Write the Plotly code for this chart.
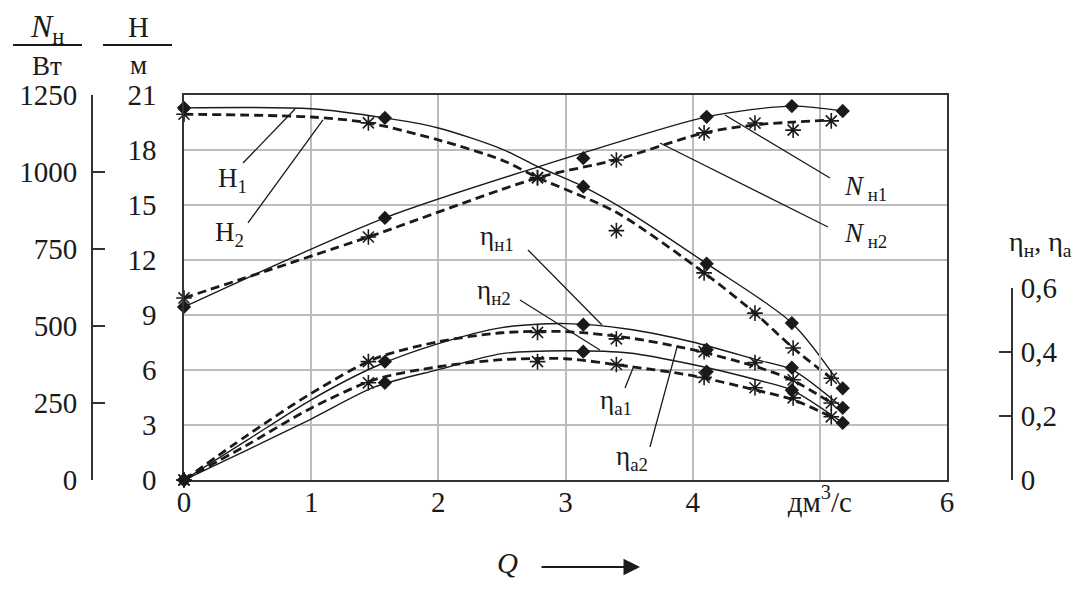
import plotly.graph_objects as go

# ---------------- data ----------------
# pump 1: measured points (diamonds, solid curves)
Q1 = [0, 1.58, 3.14, 4.11, 4.78, 5.18]
H1 = [20.3, 19.75, 16.0, 11.8, 8.56, 5.0]
N1 = [562, 851, 1045, 1179, 1214, 1198]
ETA_N1 = [0, 0.369, 0.484, 0.406, 0.35, 0.225]
ETA_N2 = [0, 0.303, 0.40, 0.3375, 0.28, 0.178]

# pump 2: measured points (asterisks, dashed curves)
Q2 = [0, 1.45, 2.78, 3.4, 4.09, 4.49, 4.79, 5.09]
H2 = [19.95, 19.48, 16.5, 13.6, 11.3, 9.1, 7.2, 5.55]
N2 = [591, 789, 981, 1039, 1127, 1159, 1136, 1166]
ETA_A2 = [0, 0.369, 0.46, 0.44, 0.40, 0.366, 0.3125, 0.24]
ETA_A1 = [0, 0.303, 0.369, 0.36, 0.32, 0.2875, 0.256, 0.197]

# smoothed (fitted) curves
QH1_FIT = [0, 1, 1.58, 2, 2.5, 2.78, 3.14, 3.5, 4.11, 4.78, 5.18]
H1_FIT = [20.3, 20.25, 19.75, 19.2, 18.05, 17.1, 16.0, 14.6, 11.8, 8.56, 5.0]
QH2_FIT = [0, 1, 1.45, 2, 2.5, 2.78, 3.4, 4.09, 4.49, 4.79, 5.09]
H2_FIT = [19.95, 19.8, 19.48, 18.55, 17.45, 16.5, 14.6, 11.3, 9.1, 7.2, 5.55]
QN1_FIT = [0, 1.58, 2.78, 3.14, 4.11, 4.78, 5.18]
N1_FIT = [562, 851, 1016, 1062, 1179, 1214, 1198]
QN2_FIT = [0, 1.45, 2.78, 3.4, 4.09, 4.49, 4.79, 5.09]
N2_FIT = [591, 789, 981, 1040, 1127, 1153, 1162, 1169]
QE1_FIT = [0, 0.5, 1, 1.5, 2, 2.5, 3, 3.5, 4, 4.5, 4.78, 5.18]
ETA_N1_FIT = [0, 0.125, 0.25, 0.353, 0.425, 0.475, 0.4875, 0.47, 0.43, 0.375, 0.344, 0.225]
ETA_N2_FIT = [0, 0.094, 0.19, 0.29, 0.344, 0.394, 0.403, 0.396, 0.36, 0.3125, 0.28, 0.178]
QE2_FIT = [0, 0.5, 1, 1.5, 2, 2.5, 3, 3.5, 4, 4.5, 4.79, 5.09]
ETA_A2_FIT = [0, 0.14, 0.27, 0.378, 0.431, 0.459, 0.4625, 0.443, 0.406, 0.353, 0.31, 0.24]
ETA_A1_FIT = [0, 0.11, 0.224, 0.313, 0.353, 0.375, 0.378, 0.354, 0.325, 0.28, 0.25, 0.197]

# axis ticks
Q_TICKS = [0, 1, 2, 3, 4, 5, 6]
Q_TICKTEXT = ["0", "1", "2", "3", "4", "дм<sup>3</sup>/с", "6"]
H_TICKS = [0, 3, 6, 9, 12, 15, 18, 21]
N_TICKS = [0, 250, 500, 750, 1000, 1250]
ETA_TICKS = [0, 0.2, 0.4, 0.6]
ETA_TICKTEXT = ["0", "0,2", "0,4", "0,6"]

# curve labels: (text, text_x, text_y, leader from x,y -> to x,y) in Q / H units
LABELS = [
    ("H<sub>1</sub>", 0.38, 16.36, 0.464, 17.29, 0.873, 20.24),
    ("H<sub>2</sub>", 0.36, 13.42, 0.503, 14.02, 1.093, 19.64),
    ("<i>N</i><sub> н1</sub>", 5.36, 15.93, 5.08, 16.47, 4.254, 19.91),
    ("<i>N</i><sub> н2</sub>", 5.36, 13.36, 5.064, 13.80, 3.743, 18.38),
    ("η<sub>н1</sub>", 2.46, 13.2, 2.705, 12.55, 3.287, 8.45),
    ("η<sub>н2</sub>", 2.44, 10.25, 2.642, 9.82, 3.271, 7.09),
    ("η<sub>a1</sub>", 3.40, 4.25, 3.468, 5.02, 3.531, 6.11),
    ("η<sub>a2</sub>", 3.52, 1.2, 3.664, 1.8, 3.877, 7.25),
]

FONT = "Liberation Serif"
INK = "#1a1a1a"
GRID = "#bdbdbd"

# ---------------- figure ----------------
fig = go.Figure()

SOLID = dict(color=INK, width=1.4, shape="spline", smoothing=0.8)
DASH = dict(color=INK, width=2.8, dash="9px,5px", shape="spline", smoothing=0.8)
DIAMOND = dict(symbol="diamond", size=11, color=INK)
STAR = dict(symbol="asterisk-open", size=13, color=INK, line=dict(color=INK, width=1.6))


def curve(x, y, style, yaxis):
    fig.add_trace(go.Scatter(x=x, y=y, mode="lines", line=style, yaxis=yaxis,
                             hoverinfo="skip", showlegend=False, cliponaxis=False))


def points(x, y, marker, yaxis):
    fig.add_trace(go.Scatter(x=x, y=y, mode="markers", marker=marker, yaxis=yaxis,
                             showlegend=False, cliponaxis=False))


# head curves
curve(QH1_FIT, H1_FIT, SOLID, "y")
curve(QH2_FIT, H2_FIT, DASH, "y")
points(Q1, H1, DIAMOND, "y")
points(Q2, H2, STAR, "y")
# power curves
curve(QN1_FIT, N1_FIT, SOLID, "y2")
curve(QN2_FIT, N2_FIT, DASH, "y2")
points(Q1, N1, DIAMOND, "y2")
points(Q2, N2, STAR, "y2")
# efficiency curves
curve(QE1_FIT, ETA_N1_FIT, SOLID, "y3")
curve(QE1_FIT, ETA_N2_FIT, SOLID, "y3")
curve(QE2_FIT, ETA_A2_FIT, DASH, "y3")
curve(QE2_FIT, ETA_A1_FIT, DASH, "y3")
points(Q1, ETA_N1, DIAMOND, "y3")
points(Q1, ETA_N2, DIAMOND, "y3")
points(Q2, ETA_A2, STAR, "y3")
points(Q2, ETA_A1, STAR, "y3")

# geometry: page has an 8px body margin, so figure px = page px - OFF
OFF = 8
W, Hh = 1065, 573
ML, MR, MT, MB = 52, 30, 87, 101
PW = W - ML - MR
PH = Hh - MT - MB


def px(x_page):
    return (x_page - OFF - ML) / PW


def py(y_page):
    return (Hh - MB - (y_page - OFF)) / PH


tickfont = dict(family=FONT, size=29, color=INK)

fig.update_layout(
    width=W, height=Hh,
    margin=dict(l=ML, r=MR, t=MT, b=MB),
    paper_bgcolor="white",
    plot_bgcolor="rgba(0,0,0,0)",
    font=dict(family=FONT, color=INK),
    xaxis=dict(domain=[px(184), px(947)], range=[0, 6], tickvals=Q_TICKS, ticktext=Q_TICKTEXT,
               showgrid=True, gridcolor=GRID, gridwidth=1.5, zeroline=False,
               showline=True, mirror=True, linecolor="#333", linewidth=1.6,
               ticks="", tickfont=tickfont, ticklabelstandoff=-5),
    yaxis=dict(range=[0, 21], tickvals=H_TICKS, showgrid=True, gridcolor=GRID, gridwidth=1.5,
               zeroline=False, showline=True, mirror=True, linecolor="#333", linewidth=1.6,
               ticks="", tickfont=tickfont, ticklabelstandoff=20),
    yaxis2=dict(overlaying="y", anchor="free", position=px(92), side="left",
                range=[0, 1250], tickvals=N_TICKS, showgrid=False, zeroline=False,
                showline=True, linecolor="#333", linewidth=2,
                ticks="inside", ticklen=12, tickwidth=2, tickcolor="#333",
                tickfont=tickfont, ticklabelstandoff=8),
    yaxis3=dict(domain=[0, 0.5], anchor="free", position=px(1012), side="right",
                range=[0, 0.6], tickvals=ETA_TICKS, ticktext=ETA_TICKTEXT,
                showgrid=False, zeroline=False, showline=True, linecolor="#333", linewidth=2,
                ticks="inside", ticklen=12, tickwidth=2, tickcolor="#333",
                tickfont=tickfont, ticklabelstandoff=2),
)

shapes = []
annotations = []
for text, tx, ty, x0, y0, x1, y1 in LABELS:
    annotations.append(dict(x=tx, y=ty, xref="x", yref="y", text=text, showarrow=False,
                            xanchor="center", yanchor="middle",
                            font=dict(family=FONT, size=27, color=INK)))
    shapes.append(dict(type="line", xref="x", yref="y", x0=x0, y0=y0, x1=x1, y1=y1,
                       line=dict(color=INK, width=1.3)))


def cap(x, y, text, size=28):
    return dict(x=px(x), y=py(y), xref="paper", yref="paper", text=text, showarrow=False,
                xanchor="center", yanchor="middle", font=dict(family=FONT, size=size, color=INK))


annotations += [
    cap(47, 28, "<i>N</i><sub>н</sub>", 32),
    cap(47, 66, "Вт", 27),
    cap(138, 27, "H", 29),
    cap(138, 65, "м", 27),
    cap(1040, 243, "η<sub>н</sub>, η<sub>a</sub>", 28),
    cap(507, 563, "<i>Q</i>", 29),
    dict(x=px(640), y=py(567), xref="paper", yref="paper", text="", showarrow=True,
         ax=-100, ay=0, arrowhead=2, arrowsize=1.5, arrowwidth=2.2, arrowcolor=INK),
]
shapes += [
    dict(type="line", xref="paper", yref="paper", x0=px(13), x1=px(82), y0=py(45), y1=py(45),
         line=dict(color=INK, width=2)),
    dict(type="line", xref="paper", yref="paper", x0=px(103), x1=px(172), y0=py(45), y1=py(45),
         line=dict(color=INK, width=2)),
]
fig.update_layout(shapes=shapes, annotations=annotations)

fig.write_html("out.html")
